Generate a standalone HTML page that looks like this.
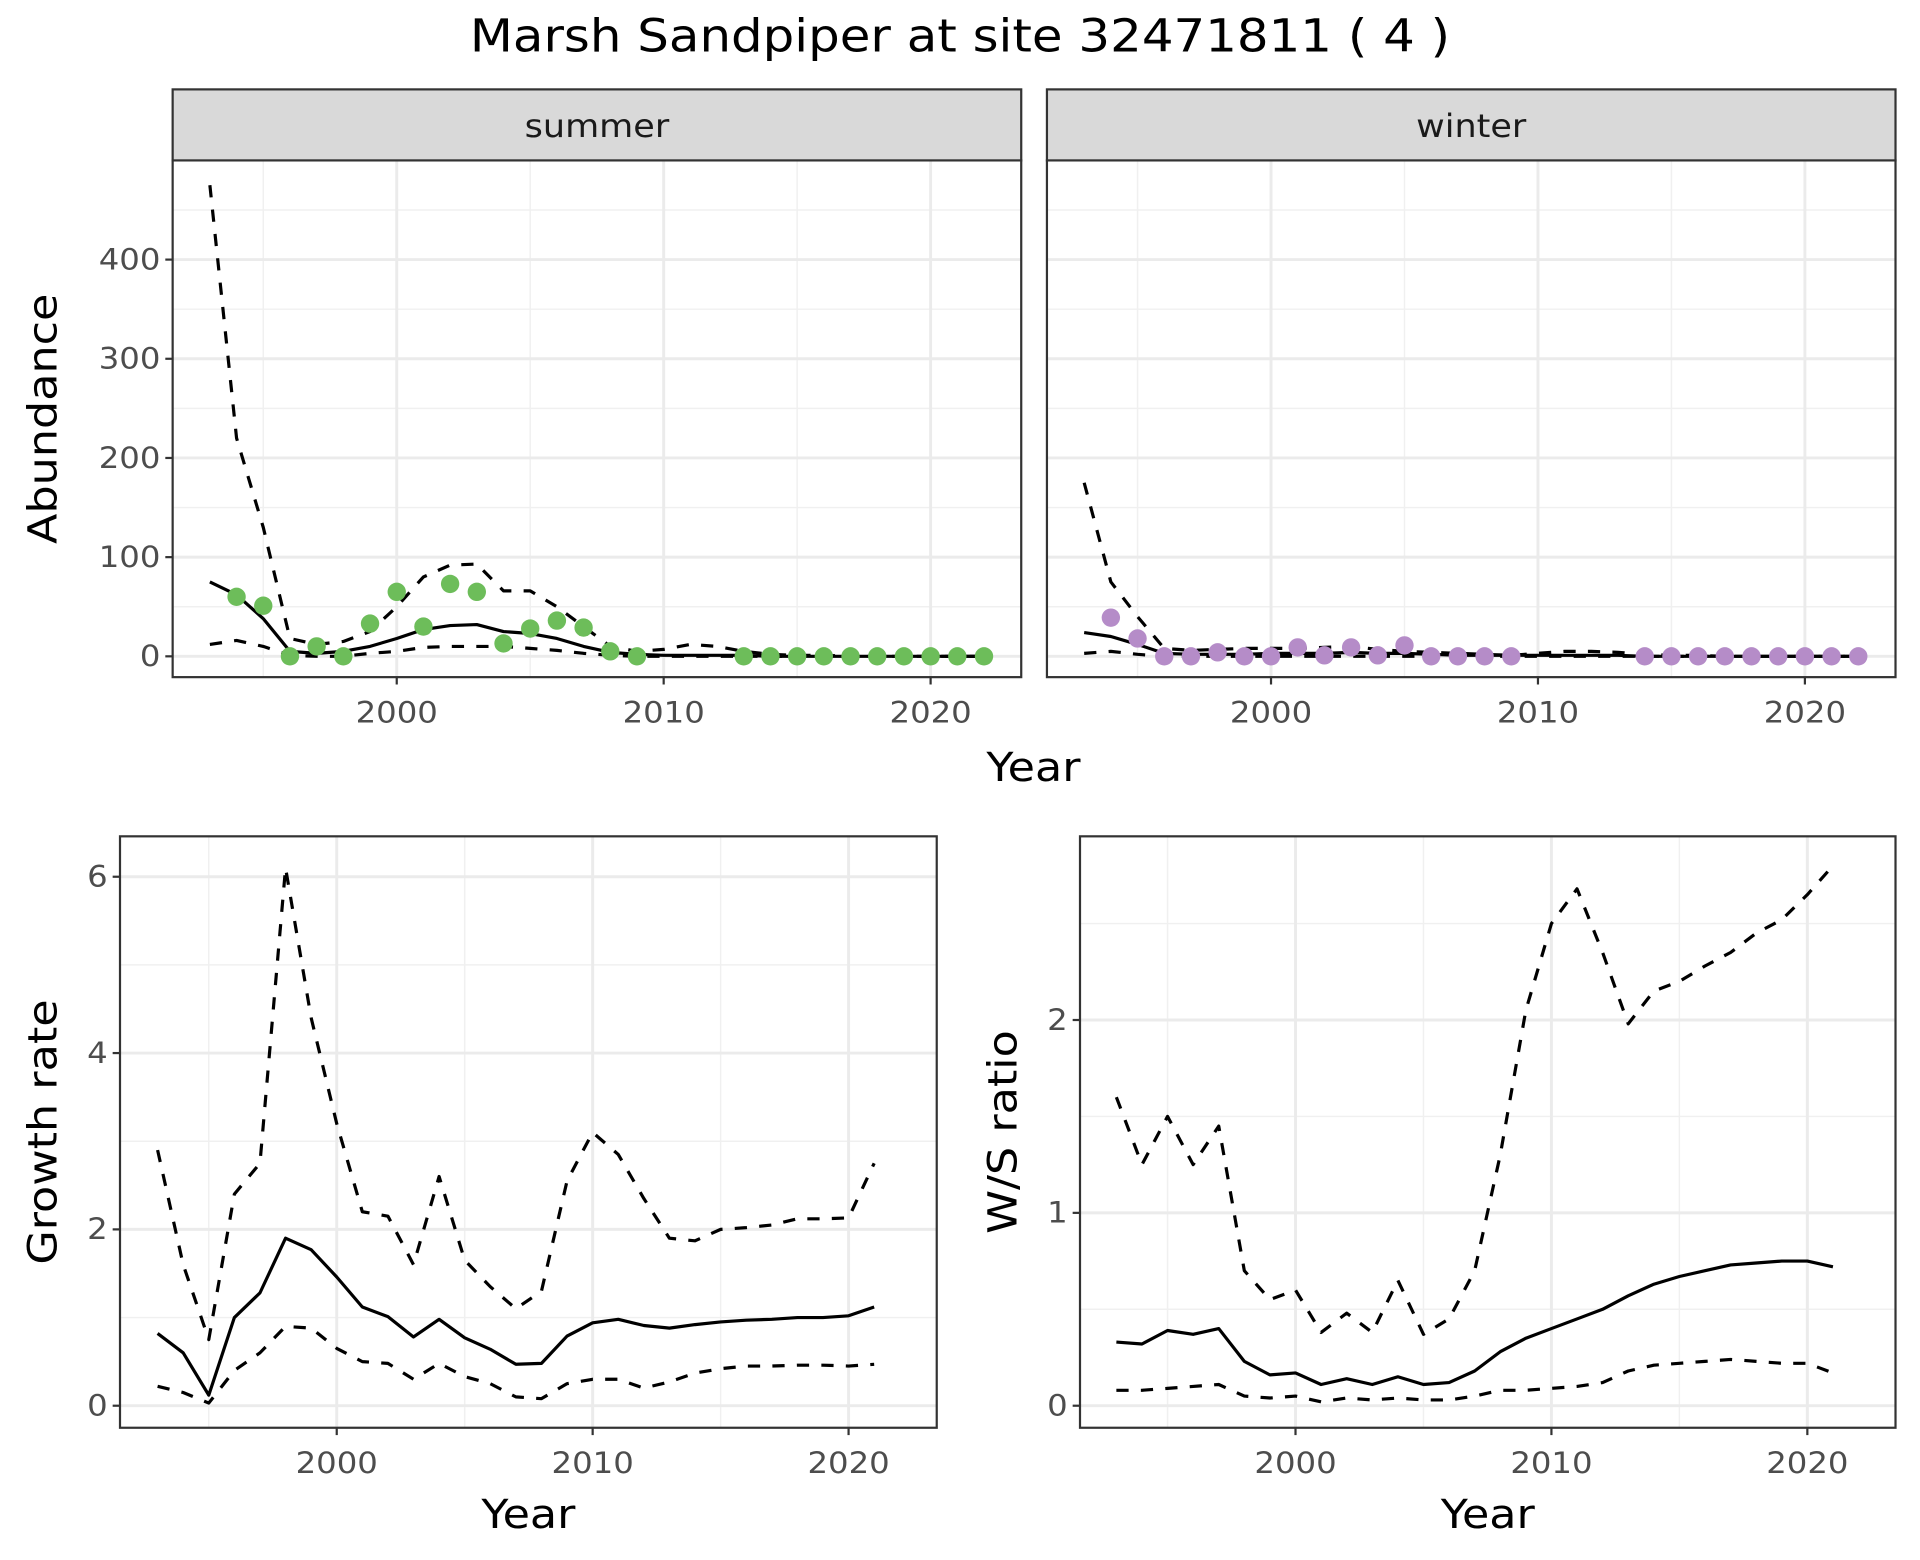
<!DOCTYPE html>
<html><head><meta charset="utf-8">
<style>
html,body{margin:0;padding:0;background:#fff;}
svg{display:block;font-family:"DejaVu Sans","Liberation Sans",sans-serif;}
</style></head>
<body>
<svg id="chart" width="1920" height="1560" viewBox="0 0 1568 1274" preserveAspectRatio="none" xmlns="http://www.w3.org/2000/svg">
<text transform="translate(784,42) scale(1.1,1)" font-size="37" text-anchor="middle" fill="#000">Marsh Sandpiper at site 32471811 ( 4 )</text>
</svg>
<script>
// ---- Abundance data ----
const yearsAb = [1993,1994,1995,1996,1997,1998,1999,2000,2001,2002,2003,2004,2005,2006,2007,2008,2009,2010,2011,2012,2013,2014,2015,2016,2017,2018,2019,2020,2021,2022];
const summerMean = [75,62,38,5,3,5,10,18,27,31,32,25,23,18,10,4,2,1,1,1,1,0,0,0,0,0,0,0,0,0];
const summerUpper = [475,220,130,18,12,15,25,50,80,92,93,66,66,50,30,10,5,7,12,10,5,2,1,1,0,0,0,0,0,0];
const summerLower = [12,16,10,1,0,0,3,5,9,10,10,10,8,6,3,1,0,0,0,0,0,0,0,0,0,0,0,0,0,0];
const summerPtYears = [1994,1995,1996,1997,1998,1999,2000,2001,2002,2003,2004,2005,2006,2007,2008,2009,2013,2014,2015,2016,2017,2018,2019,2020,2021,2022];
const summerPts = [60,51,0,10,0,33,65,30,73,65,13,28,36,29,5,0,0,0,0,0,0,0,0,0,0,0];
const winterMean = [24,20,12,3,2,2,2,3,3,3,4,3,3,2,1,1,1,1,1,1,1,0,0,0,0,0,0,0,0,0];
const winterUpper = [175,75,40,8,6,7,8,8,8,9,10,7,5,4,3,2,1,3,5,5,4,2,1,1,0,0,0,0,0,0];
const winterLower = [3,5,2,0,0,0,0,0,0,0,0,0,0,0,0,0,0,0,0,0,0,0,0,0,0,0,0,0,0,0];
const winterPtYears = [1994,1995,1996,1997,1998,1999,2000,2001,2002,2003,2004,2005,2006,2007,2008,2009,2014,2015,2016,2017,2018,2019,2020,2021,2022];
const winterPts = [39,18,0,0,4,0,0,9,1,9,1,11,0,0,0,0,0,0,0,0,0,0,0,0,0];
const abTicks = [0,100,200,300,400];
const yearTicks = [2000,2010,2020];
// ---- Growth / ratio data ----
const yearsGr = [1993,1994,1995,1996,1997,1998,1999,2000,2001,2002,2003,2004,2005,2006,2007,2008,2009,2010,2011,2012,2013,2014,2015,2016,2017,2018,2019,2020,2021];
const growthMean = [0.82,0.6,0.12,1.0,1.28,1.9,1.77,1.46,1.12,1.01,0.78,0.98,0.77,0.64,0.47,0.48,0.79,0.94,0.98,0.91,0.88,0.92,0.95,0.97,0.98,1.0,1.0,1.02,1.12];
const growthUpper = [2.9,1.6,0.75,2.4,2.75,6.1,4.4,3.2,2.2,2.15,1.6,2.6,1.65,1.35,1.1,1.3,2.55,3.1,2.85,2.35,1.9,1.87,2.0,2.02,2.05,2.12,2.12,2.13,2.75];
const growthLower = [0.22,0.15,0.03,0.4,0.6,0.9,0.88,0.65,0.5,0.48,0.3,0.48,0.33,0.25,0.1,0.08,0.25,0.3,0.3,0.2,0.27,0.37,0.42,0.45,0.45,0.46,0.46,0.45,0.47];
const growthTicks = [0,2,4,6];
const ratioMean = [0.33,0.32,0.39,0.37,0.40,0.23,0.16,0.17,0.11,0.14,0.11,0.15,0.11,0.12,0.18,0.28,0.35,0.40,0.45,0.50,0.57,0.63,0.67,0.70,0.73,0.74,0.75,0.75,0.72];
const ratioUpper = [1.6,1.25,1.5,1.25,1.45,0.7,0.55,0.6,0.38,0.48,0.38,0.65,0.37,0.45,0.7,1.3,2.05,2.5,2.68,2.35,1.98,2.15,2.2,2.28,2.35,2.45,2.52,2.65,2.8];
const ratioLower = [0.08,0.08,0.09,0.10,0.11,0.05,0.04,0.05,0.02,0.04,0.03,0.04,0.03,0.03,0.05,0.08,0.08,0.09,0.10,0.12,0.18,0.21,0.22,0.23,0.24,0.23,0.22,0.22,0.17];
const ratioTicks = [0,1,2];

const NS = "http://www.w3.org/2000/svg";
const svg = document.getElementById('chart');
function mk(tag, attrs, parent){
  const e = document.createElementNS(NS, tag);
  for (const k in attrs) e.setAttribute(k, attrs[k]);
  (parent||svg).appendChild(e);
  return e;
}
function txt(parent, x, y, size, anchor, fill, str, rot){
  const tr = 'translate(' + x + ',' + y + ')' + (rot ? ' rotate(-90)' : '') + ' scale(1.1,1)';
  const t = mk('text', {transform: tr, 'font-size': size, 'text-anchor': anchor, fill: fill}, parent);
  t.textContent = str;
  return t;
}

function panel(cfg){
  const g = mk('g', {});
  
  
  const sx = v => cfg.x0 + (v - cfg.xa) * cfg.xs;
  const sy = v => cfg.y0 - (v - cfg.ya) * cfg.ys;
  mk('rect', {x:cfg.L, y:cfg.T, width:cfg.R-cfg.L, height:cfg.B-cfg.T, fill:'#fff'}, g);
  for (let yr=1995; yr<=2025; yr+=10){ const x=sx(yr); if(x>cfg.L&&x<cfg.R) mk('line',{x1:x,x2:x,y1:cfg.T,y2:cfg.B,stroke:'#f0f0f0','stroke-width':1.2},g); }
  for (let i=0;i<cfg.ticks.length;i++){ const v=cfg.ticks[i]+cfg.minor; const y=sy(v); if(y>cfg.T&&y<cfg.B) mk('line',{x1:cfg.L,x2:cfg.R,y1:y,y2:y,stroke:'#f0f0f0','stroke-width':1.2},g); }
  const vlo=cfg.ticks[0]-cfg.minor; if(sy(vlo)<cfg.B) mk('line',{x1:cfg.L,x2:cfg.R,y1:sy(vlo),y2:sy(vlo),stroke:'#f0f0f0','stroke-width':1.2},g);
  yearTicks.forEach(yr=>{ const x=sx(yr); mk('line',{x1:x,x2:x,y1:cfg.T,y2:cfg.B,stroke:'#ebebeb','stroke-width':2.4},g); });
  cfg.ticks.forEach(v=>{ const y=sy(v); mk('line',{x1:cfg.L,x2:cfg.R,y1:y,y2:y,stroke:'#ebebeb','stroke-width':2.4},g); });
  const line = (ys, yrs, dash, nm) => {
    const p = mk('polyline', {points: yrs.map((yr,i)=>sx(yr)+','+sy(ys[i])).join(' '), fill:'none', stroke:'#000', 'stroke-width':2.6, 'stroke-dasharray': dash?'10,10':'none', 'stroke-linejoin':'round'}, g);
    
    
  };
  line(cfg.upper, cfg.years, true, 'upper-bound-line');
  line(cfg.lower, cfg.years, true, 'lower-bound-line');
  line(cfg.mean, cfg.years, false, 'mean-line');
  if (cfg.pts){
    cfg.pts.forEach((v,i)=>{
      const c = mk('circle',{cx:sx(cfg.ptYears[i]), cy:sy(v), r:7.5, fill:cfg.color}, g);
      
      
    });
  }
  mk('rect', {x:cfg.L, y:cfg.T, width:cfg.R-cfg.L, height:cfg.B-cfg.T, fill:'none', stroke:'#333', 'stroke-width':1.8}, g);
  if (cfg.showY){
    cfg.ticks.forEach(v=>{ const y=sy(v);
      mk('line',{x1:cfg.L-6,x2:cfg.L,y1:y,y2:y,stroke:'#333','stroke-width':1.8},g);
      const t=txt(g, cfg.L-10, y+8, 24, 'end', '#4d4d4d', String(v));
       
    });
  }
  yearTicks.forEach(yr=>{ const x=sx(yr);
    mk('line',{x1:x,x2:x,y1:cfg.B,y2:cfg.B+6,stroke:'#333','stroke-width':1.8},g);
    const t=txt(g, x, cfg.B+37, 24, 'middle', '#4d4d4d', String(yr));
     
  });
  if (cfg.strip){
    mk('rect',{x:cfg.L,y:73,width:cfg.R-cfg.L,height:58,fill:'#d9d9d9',stroke:'#333','stroke-width':1.8},g);
    const t=txt(g, (cfg.L+cfg.R)/2, 112, 26, 'middle', '#1a1a1a', cfg.strip);
     
  }
  if (cfg.xTitle){
    const t=txt(g, (cfg.L+cfg.R)/2, 1248, 33, 'middle', '#000', 'Year');
     
  }
  if (cfg.yTitle){
    const cy=(cfg.T+cfg.B)/2;
    const t=txt(g, cfg.yTx, cy, 33, 'middle', '#000', cfg.yTitle, true);
     
  }
}

panel({name:'summer-panel',L:141,R:834,T:131,B:553,x0:324,xa:2000,xs:21.8,y0:536,ya:0,ys:0.81,ticks:abTicks,minor:50,years:yearsAb,mean:summerMean,upper:summerUpper,lower:summerLower,pts:summerPts,ptYears:summerPtYears,color:'#6dbd5a',showY:true,strip:'summer',yTitle:'Abundance',yTx:46});
panel({name:'winter-panel',L:855,R:1548,T:131,B:553,x0:1038,xa:2000,xs:21.8,y0:536,ya:0,ys:0.81,ticks:abTicks,minor:50,years:yearsAb,mean:winterMean,upper:winterUpper,lower:winterLower,pts:winterPts,ptYears:winterPtYears,color:'#b58cc8',showY:false,strip:'winter'});
const yt=txt(svg, 844, 638, 33, 'middle', '#000', 'Year');


panel({name:'growth-rate-panel',L:98,R:765,T:683,B:1166,x0:275,xa:2000,xs:20.9,y0:1148,ya:0,ys:72,ticks:growthTicks,minor:1,years:yearsGr,mean:growthMean,upper:growthUpper,lower:growthLower,showY:true,xTitle:true,yTitle:'Growth rate',yTx:46});
panel({name:'ws-ratio-panel',L:882,R:1548,T:683,B:1166,x0:1058,xa:2000,xs:20.9,y0:1148,ya:0,ys:157.5,ticks:ratioTicks,minor:0.5,years:yearsGr,mean:ratioMean,upper:ratioUpper,lower:ratioLower,showY:true,xTitle:true,yTitle:'W/S ratio',yTx:830});
</script>
</body></html>
